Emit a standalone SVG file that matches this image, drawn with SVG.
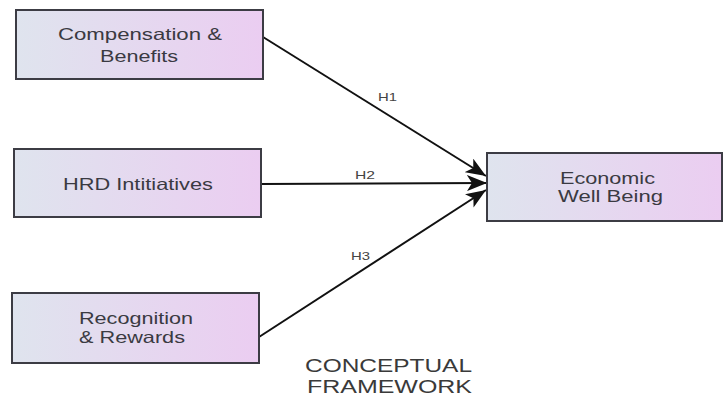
<svg xmlns="http://www.w3.org/2000/svg" width="724" height="398" viewBox="0 0 724 398">
  <defs>
    <linearGradient id="boxGrad" x1="0" y1="0" x2="1" y2="0">
      <stop offset="0" stop-color="#dfe4ee"/>
      <stop offset="1" stop-color="#ebcdf1"/>
    </linearGradient>
    <marker id="arrow" markerUnits="userSpaceOnUse" markerWidth="22" markerHeight="16" refX="20" refY="8" orient="auto">
      <path d="M0,0 L20,8 L0,16 L5,8 z" fill="#111"/>
    </marker>
  </defs>
  <style>
    .box { fill: url(#boxGrad); stroke: #3c3c44; stroke-width: 2; }
    .lbl { font-family: "Liberation Sans", Arial, sans-serif; font-size: 16.5px; fill: #3a3a42; }
    .hyp { font-family: "Liberation Sans", Arial, sans-serif; font-size: 11px; fill: #444; }
    .title { font-family: "Liberation Sans", Arial, sans-serif; font-size: 19px; fill: #3a3a3a; }
    .conn { stroke: #111; stroke-width: 2; fill: none; marker-end: url(#arrow); }
  </style>
  <rect width="724" height="398" fill="#ffffff"/>

  <g id="connectors">
    <line class="conn" x1="263" y1="37" x2="486" y2="176"/>
    <line class="conn" x1="261" y1="184" x2="487" y2="183"/>
    <line class="conn" x1="259" y1="337" x2="486" y2="190"/>
    <text class="hyp" x="378" y="101" textLength="19" lengthAdjust="spacingAndGlyphs">H1</text>
    <text class="hyp" x="355" y="179" textLength="20" lengthAdjust="spacingAndGlyphs">H2</text>
    <text class="hyp" x="351" y="260" textLength="19" lengthAdjust="spacingAndGlyphs">H3</text>
  </g>

  <g id="node-compensation">
    <rect class="box" x="16" y="10" width="247" height="69"/>
    <text class="lbl" x="58" y="40" textLength="164" lengthAdjust="spacingAndGlyphs">Compensation &amp;</text>
    <text class="lbl" x="100" y="62" textLength="78" lengthAdjust="spacingAndGlyphs">Benefits</text>
  </g>

  <g id="node-hrd">
    <rect class="box" x="14" y="149" width="247" height="68"/>
    <text class="lbl" x="63" y="190" textLength="150" lengthAdjust="spacingAndGlyphs">HRD Intitiatives</text>
  </g>

  <g id="node-recognition">
    <rect class="box" x="12" y="293" width="247" height="70"/>
    <text class="lbl" x="79" y="324" textLength="114" lengthAdjust="spacingAndGlyphs">Recognition</text>
    <text class="lbl" x="79" y="343" textLength="106" lengthAdjust="spacingAndGlyphs">&amp; Rewards</text>
  </g>

  <g id="node-economic">
    <rect class="box" x="487" y="153" width="235" height="68"/>
    <text class="lbl" x="560" y="184" textLength="95" lengthAdjust="spacingAndGlyphs">Economic</text>
    <text class="lbl" x="558" y="202" textLength="105" lengthAdjust="spacingAndGlyphs">Well Being</text>
  </g>

  <g id="title">
    <text class="title" x="305" y="372" textLength="167" lengthAdjust="spacingAndGlyphs">CONCEPTUAL</text>
    <text class="title" x="307" y="393" textLength="165" lengthAdjust="spacingAndGlyphs">FRAMEWORK</text>
  </g>
</svg>
